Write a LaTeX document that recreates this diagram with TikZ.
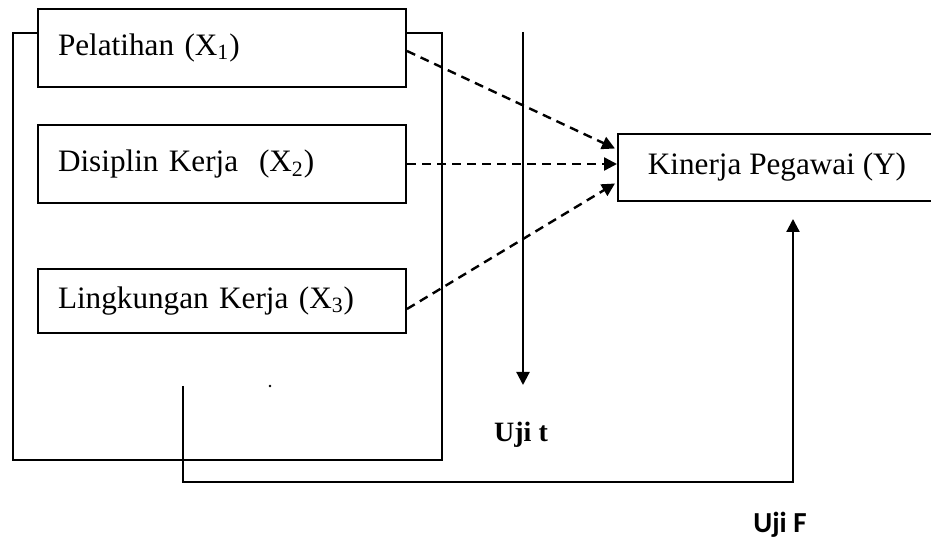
\documentclass[tikz,border=0pt]{standalone}
\usepackage{fontspec}
\setmainfont{Liberation Serif}
\newfontfamily\ujifont{Carlito}
\usetikzlibrary{positioning,arrows.meta,calc}

\begin{document}
\begin{tikzpicture}[
    x=0.5pt, y=-0.5pt,
    varbox/.style={rectangle, draw, fill=white, line width=1pt, minimum width=184pt, text width=164pt, inner xsep=10pt, align=left, font=\fontsize{15.6}{18}\selectfont},
    ybox/.style={rectangle, draw, fill=white, line width=1pt, minimum width=159pt, minimum height=33.5pt, align=center, font=\fontsize{15.6}{18}\selectfont},
    dasharrow/.style={-{Triangle[length=6.5pt,width=6.5pt]}, line width=1.2pt, dash pattern=on 4.5pt off 3pt},
    arrow/.style={-{Triangle[length=6.5pt,width=6.5pt]}, line width=1.1pt},
    testlabel/.style={font=\bfseries\fontsize{14}{16}\selectfont},
]
\useasboundingbox (0,0) rectangle (931,539);

% frame round the three X variables
\draw[line width=1pt] (13,33) rectangle (442,460);

\node[varbox, minimum height=39pt, anchor=north west] (P) at (37,8) {Pelatihan (X\textsubscript{1})};
\node[varbox, minimum height=39pt, below=18pt of P] (D) {Disiplin Kerja~~(X\textsubscript{2})};
\node[varbox, minimum height=32pt, below=32pt of D] (L) {Lingkungan Kerja (X\textsubscript{3})};
\node[ybox, anchor=north west] (K) at (617,133) {Kinerja Pegawai (Y)};

\node[testlabel] (ujit) at (521,435) {Uji t};
\node[testlabel, font=\ujifont\bfseries\fontsize{14.5}{17}\selectfont] (ujiF) at (780,525) {Uji F};

% partial effects (t test)
\draw[dasharrow] ($(P.east)+(0,3)$) -- ($(K.west)+(-2,-19)$);
\draw[dasharrow] (D.east) -- (D.east -| K.west);
\draw[dasharrow] ($(L.east)+(0,8)$) -- ($(K.west)+(-2,16)$);

\coordinate (ttop) at (523,32);
\coordinate (tend) at (523,385);
\draw[arrow] (ttop) -- (tend);

% joint effect (F test)
\coordinate (fstart) at (183,386);
\coordinate (fcorner) at (793,482);
\coordinate (fend) at (793,219);
\draw[arrow] (fstart) |- (fcorner) -- (fend);

\fill (270,386) circle (0.7pt);

\end{tikzpicture}
\end{document}
